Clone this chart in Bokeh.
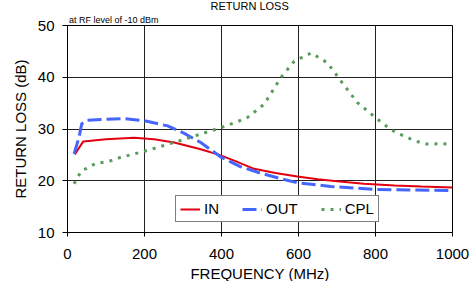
from bokeh.plotting import figure
from bokeh.models import Title, Legend, LegendItem, FixedTicker, Range1d
from bokeh.embed import file_html
from bokeh.resources import INLINE

# ---- data ----
freq_in = [19, 41, 100, 173, 225, 277, 346, 398, 433, 485, 540, 597, 650, 700, 770, 850, 920, 1000]
in_vals = [25.1, 27.6, 28.0, 28.3, 28.0, 27.4, 26.1, 24.9, 23.9, 22.3, 21.5, 20.8, 20.3, 19.9, 19.4, 19.1, 18.9, 18.7]

freq_out = [17, 30, 37, 50, 100, 150, 200, 260, 302, 346, 400, 450, 500, 554, 597, 684, 800, 900, 1000]
out_vals = [25.2, 28.4, 31.0, 31.7, 31.9, 32.0, 31.6, 30.6, 29.2, 27.4, 24.5, 22.7, 21.5, 20.4, 19.6, 18.9, 18.3, 18.2, 18.1]

freq_cpl = [17, 29, 37, 50, 72, 94, 115, 137, 200, 299, 400, 437, 467, 511, 554, 589, 633, 675,
            710, 753, 800, 831, 853, 876, 896, 916, 933, 975, 1000]
cpl_vals = [19.4, 21.0, 22.0, 22.4, 23.3, 23.6, 23.9, 24.5, 25.7, 27.9, 30.3, 31.3, 32.2, 34.8, 39.9, 43.1, 44.7, 42.8,
            39.3, 35.1, 32.2, 30.4, 29.3, 28.6, 27.9, 27.4, 27.1, 27.15, 27.0]

x_ticks = [0, 200, 400, 600, 800, 1000]
y_ticks = [10, 20, 30, 40, 50]
series_names = ["IN", "OUT", "CPL"]

FONT = "Liberation Sans"

p = figure(frame_width=385, frame_height=207, x_range=Range1d(0, 1000), y_range=Range1d(10, 50),
           output_backend="svg", toolbar_location=None,
           min_border_left=67, min_border_right=21, min_border_top=37, min_border_bottom=53)
p.styles = {"margin-top": "-12px", "margin-bottom": "-12px", "margin-right": "-8px"}
p.title = None
p.outline_line_color = "black"
p.outline_line_width = 1
p.background_fill_color = "white"
p.border_fill_color = "white"

for ax in (p.xaxis[0], p.yaxis[0]):
    ax.axis_line_color = "black"
    ax.major_tick_line_color = "black"
    ax.major_tick_in = 0
    ax.minor_tick_line_color = None
    ax.major_label_text_font = FONT
    ax.major_label_text_font_size = "15px"
    ax.major_label_text_color = "black"
    ax.axis_label_text_font = FONT
    ax.axis_label_text_font_size = "15px"
    ax.axis_label_text_font_style = "normal"
    ax.axis_label_text_color = "black"

p.xaxis.ticker = FixedTicker(ticks=x_ticks)
p.yaxis.ticker = FixedTicker(ticks=y_ticks)
p.xaxis.major_tick_out = 4
p.yaxis.major_tick_out = 5
p.xaxis.major_label_standoff = 12
p.yaxis.major_label_standoff = 8
p.xaxis.axis_label = "FREQUENCY (MHz)"
p.yaxis.axis_label = "RETURN LOSS (dB)"
p.xaxis.axis_label_standoff = 3
p.yaxis.axis_label_standoff = 6

p.xgrid.ticker = FixedTicker(ticks=x_ticks)
p.ygrid.ticker = FixedTicker(ticks=y_ticks)
p.grid.grid_line_color = "#222222"
p.grid.grid_line_width = 1

r_in = p.line(freq_in, in_vals, line_color="#e00010", line_width=2)
r_out = p.line(freq_out, out_vals, line_color="#4466ff", line_width=3, line_dash="14 5")
r_cpl = p.line(freq_cpl, cpl_vals, line_color="#5a9a5a", line_width=3, line_dash="3 6")

legend = Legend(items=[LegendItem(label=series_names[0], renderers=[r_in]),
                       LegendItem(label=series_names[1], renderers=[r_out]),
                       LegendItem(label=series_names[2], renderers=[r_cpl])],
                orientation="horizontal", location=(108, 10),
                padding=4, spacing=23, label_standoff=4, glyph_width=20, glyph_height=12,
                label_height=12, label_width=10, margin=0,
                border_line_color="black", border_line_width=1,
                background_fill_color="white", background_fill_alpha=1,
                label_text_font=FONT, label_text_font_size="15px", label_text_color="black")
p.add_layout(legend, "center")

# subtitle first (closest to the frame), then the main title above it
p.add_layout(Title(text="at RF level of -10 dBm", align="left", offset=1.5, standoff=2,
                   text_font=FONT, text_font_size="9px", text_font_style="normal",
                   text_color="black"), "above")
p.add_layout(Title(text="RETURN LOSS", align="left", offset=143, standoff=0,
                   text_font=FONT, text_font_size="11px", text_font_style="normal",
                   text_color="black"), "above")

open("out.html", "w").write(file_html(p, INLINE))
